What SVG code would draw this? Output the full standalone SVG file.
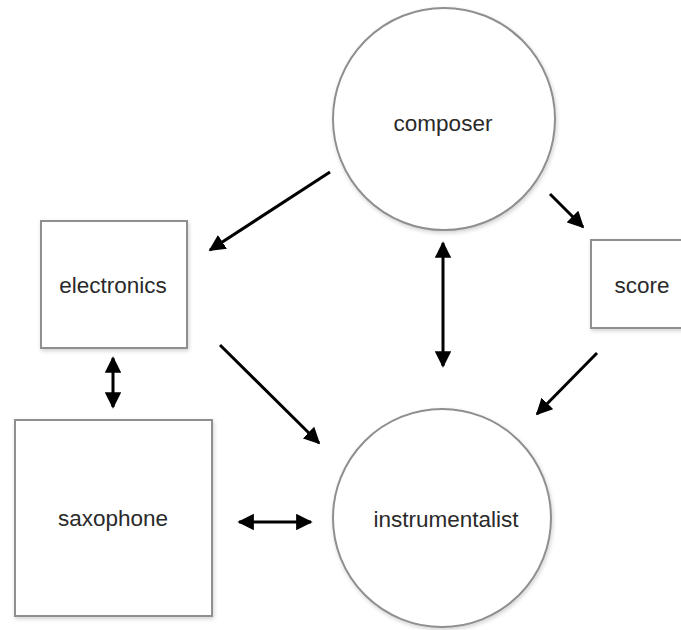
<svg xmlns="http://www.w3.org/2000/svg" width="681" height="630" viewBox="0 0 681 630">
  <style>
    .shape { fill: #ffffff; stroke: #8f8f8f; stroke-width: 2; filter: url(#shadow); }
    .label { font-family: "Liberation Sans", Arial, sans-serif; font-size: 22.5px; fill: #2a2a2a; text-anchor: middle; }
    .link { stroke: #000000; stroke-width: 3; fill: none; }
    .one { marker-end: url(#head); }
    .both { marker-start: url(#tail); marker-end: url(#head); }
  </style>
  <defs>
    <filter id="shadow" x="-10%" y="-10%" width="125%" height="125%">
      <feGaussianBlur in="SourceAlpha" stdDeviation="2"/>
      <feOffset dx="1" dy="2" result="blur"/>
      <feComponentTransfer><feFuncA type="linear" slope="0.18"/></feComponentTransfer>
      <feMerge><feMergeNode/><feMergeNode in="SourceGraphic"/></feMerge>
    </filter>
    <!-- filled triangular heads, about 16px long and wide -->
    <marker id="head" viewBox="0 0 10 10" refX="9" refY="5" markerWidth="5.5" markerHeight="5.5" orient="auto" markerUnits="strokeWidth">
      <path d="M0,0 L10,5 L0,10 Z" fill="#000000"/>
    </marker>
    <marker id="tail" viewBox="0 0 10 10" refX="1" refY="5" markerWidth="5.5" markerHeight="5.5" orient="auto" markerUnits="strokeWidth">
      <path d="M10,0 L0,5 L10,10 Z" fill="#000000"/>
    </marker>
  </defs>

  <rect width="681" height="630" fill="#ffffff"/>

  <g id="composer">
    <circle class="shape" cx="444" cy="119" r="111"/>
    <text class="label" x="443" y="131">composer</text>
  </g>

  <g id="electronics">
    <rect class="shape" x="41" y="221" width="146" height="127"/>
    <text class="label" x="113" y="293">electronics</text>
  </g>

  <g id="score">
    <rect class="shape" x="591" y="240" width="102" height="88"/>
    <text class="label" x="642" y="293">score</text>
  </g>

  <g id="saxophone">
    <rect class="shape" x="15" y="420" width="197" height="196"/>
    <text class="label" x="113" y="526">saxophone</text>
  </g>

  <g id="instrumentalist">
    <circle class="shape" cx="442" cy="518" r="109"/>
    <text class="label" x="446" y="527">instrumentalist</text>
  </g>

  <g id="connectors">
    <line class="link one" x1="330" y1="172" x2="210" y2="250"/>
    <line class="link one" x1="550" y1="194" x2="583" y2="227"/>
    <line class="link one" x1="597" y1="353" x2="537" y2="414"/>
    <line class="link one" x1="220" y1="345" x2="319" y2="443"/>
    <line class="link both" x1="443" y1="243" x2="443" y2="366"/>
    <line class="link both" x1="113" y1="358" x2="113" y2="407"/>
    <line class="link both" x1="239" y1="522" x2="311" y2="522"/>
  </g>
</svg>
